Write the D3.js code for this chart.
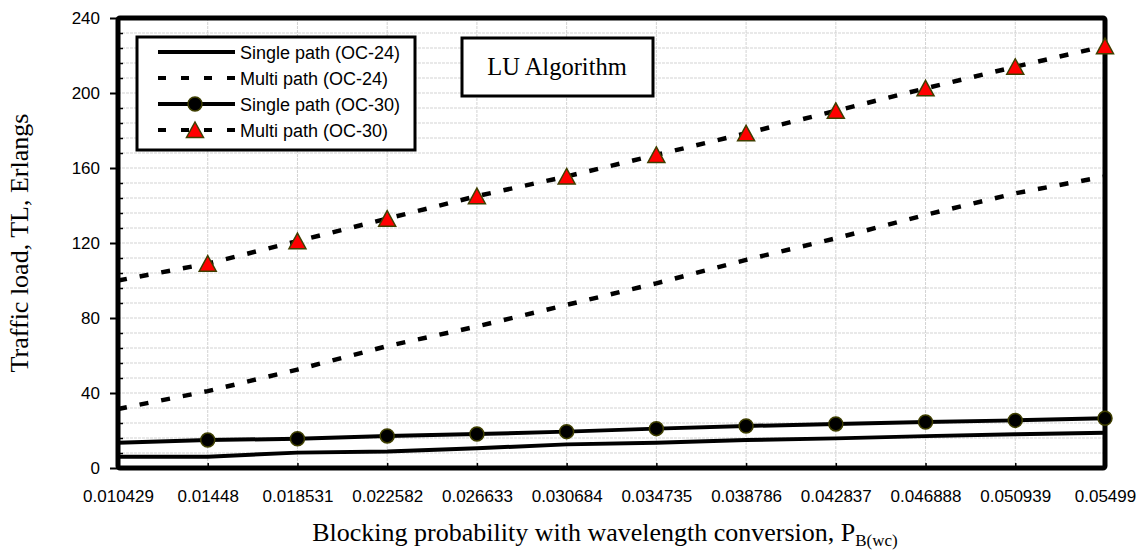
<!DOCTYPE html>
<html>
<head>
<meta charset="utf-8">
<script src="https://cdn.jsdelivr.net/npm/d3@7"></script>
<style>
  body { margin: 0; background: #fff; }
</style>
</head>
<body>
<svg id="chart" width="1141" height="553"></svg>
<script>
// x categories (blocking probability)
var xLabels = ["0.010429", "0.01448", "0.018531", "0.022582", "0.026633", "0.030684",
    "0.034735", "0.038786", "0.042837", "0.046888", "0.050939", "0.05499"];

// traffic load, Erlangs
var single24 = [6, 6, 8.2, 8.8, 10.5, 12.6, 13.5, 14.9, 15.8, 17, 18, 18.8];
var multi24 = [31.5, 41, 52.5, 65, 75.5, 87, 98.5, 111, 122.5, 135, 146.5, 155.5];
var single30 = [13.5, 14.9, 15.6, 17.1, 18.1, 19.4, 21, 22.4, 23.5, 24.5, 25.4, 26.5];
var multi30 = [100, 109, 121, 133, 145, 155.5, 167, 178.5, 190.5, 202.5, 214, 225];

var yTicks = [0, 40, 80, 120, 160, 200, 240];
var yMinorTicks = [8, 16, 24, 32, 48, 56, 64, 72, 88, 96, 104, 112, 128, 136, 144, 152,
    168, 176, 184, 192, 208, 216, 224, 232];

var seriesNames = ["Single path (OC-24)", "Multi path (OC-24)", "Single path (OC-30)", "Multi path (OC-30)"];

let plotLeft = 118, plotRight = 1105, plotTop = 18, plotBottom = 468;
let sansFont = "'Liberation Sans', Arial, sans-serif";
let serifFont = "'Liberation Serif', 'Times New Roman', serif";
let markerStroke = "#3f3f00";
let dashPattern = "9,13";

var svg = d3.select("#chart");

//scales
var xScale = d3.scaleLinear()
    .domain([0, xLabels.length - 1])
    .range([plotLeft, plotRight]);

var yScale = d3.scaleLinear()
    .domain([0, 240])
    .range([plotBottom, plotTop]);

//grid lines
var grid = svg.append("g");

grid.selectAll(".hgrid")
    .data(yMinorTicks.concat(yTicks.slice(1, -1)))
    .enter()
    .append("line")
    .attr("x1", plotLeft)
    .attr("x2", plotRight)
    .attr("y1", d => yScale(d))
    .attr("y2", d => yScale(d))
    .attr("stroke", "#d3d3d3")
    .attr("stroke-width", 1)
    .attr("stroke-dasharray", "3,1");

grid.selectAll(".vgrid")
    .data(d3.range(1, xLabels.length - 1))
    .enter()
    .append("line")
    .attr("x1", d => xScale(d))
    .attr("x2", d => xScale(d))
    .attr("y1", plotTop)
    .attr("y2", plotBottom)
    .attr("stroke", "#d3d3d3")
    .attr("stroke-width", 1)
    .attr("stroke-dasharray", "3,1");

//Y axis (major ticks outside, minor ticks inside)
var yAxisGroup = svg.append("g")
    .attr("transform", `translate(${plotLeft}, 0)`)
    .call(d3.axisLeft(yScale).tickValues(yTicks).tickSize(8).tickPadding(10));

yAxisGroup.select(".domain").remove();
yAxisGroup.selectAll("line").attr("stroke", "#000").attr("stroke-width", 2);
yAxisGroup.selectAll("text")
    .attr("font-family", sansFont)
    .attr("font-size", "17px")
    .attr("fill", "#000");

var yMinorGroup = svg.append("g")
    .attr("transform", `translate(${plotLeft}, 0)`)
    .call(d3.axisRight(yScale).tickValues(yMinorTicks).tickSize(5).tickFormat(""));

yMinorGroup.select(".domain").remove();
yMinorGroup.selectAll("line").attr("stroke", "#000").attr("stroke-width", 1.5);

//X axis
var xAxisGroup = svg.append("g")
    .attr("transform", `translate(0, ${plotBottom})`)
    .call(d3.axisBottom(xScale)
        .tickValues(d3.range(xLabels.length))
        .tickFormat(i => xLabels[i])
        .tickSizeInner(-5)
        .tickSizeOuter(0)
        .tickPadding(22));

xAxisGroup.select(".domain").remove();
xAxisGroup.selectAll("line").attr("stroke", "#000").attr("stroke-width", 1.5);
xAxisGroup.selectAll("text")
    .attr("font-family", sansFont)
    .attr("font-size", "17px")
    .attr("fill", "#000");

//lines
var line = d3.line()
    .x((d, i) => xScale(i))
    .y(d => yScale(d));

svg.append("path")
    .datum(single24)
    .attr("d", line)
    .attr("fill", "none")
    .attr("stroke", "#000")
    .attr("stroke-width", 4);

svg.append("path")
    .datum(multi24)
    .attr("d", line)
    .attr("fill", "none")
    .attr("stroke", "#000")
    .attr("stroke-width", 4.5)
    .attr("stroke-dasharray", dashPattern);

svg.append("path")
    .datum(single30)
    .attr("d", line)
    .attr("fill", "none")
    .attr("stroke", "#000")
    .attr("stroke-width", 4);

svg.append("path")
    .datum(multi30)
    .attr("d", line)
    .attr("fill", "none")
    .attr("stroke", "#000")
    .attr("stroke-width", 4.5)
    .attr("stroke-dasharray", dashPattern);

//plot frame
svg.append("rect")
    .attr("x", plotLeft)
    .attr("y", plotTop)
    .attr("width", plotRight - plotLeft)
    .attr("height", plotBottom - plotTop)
    .attr("rx", 2)
    .attr("fill", "none")
    .attr("stroke", "#000")
    .attr("stroke-width", 5);

//markers (first category has none)
var triangle = "M0,-8L8.5,7.5L-8.5,7.5Z";

svg.selectAll(".dot30")
    .data(single30.slice(1))
    .enter()
    .append("circle")
    .attr("cx", (d, i) => xScale(i + 1))
    .attr("cy", d => yScale(d))
    .attr("r", 7)
    .attr("fill", "#000")
    .attr("stroke", markerStroke)
    .attr("stroke-width", 1.5);

svg.selectAll(".tri30")
    .data(multi30.slice(1))
    .enter()
    .append("path")
    .attr("d", triangle)
    .attr("transform", (d, i) => `translate(${xScale(i + 1)}, ${yScale(d)})`)
    .attr("fill", "#ff0000")
    .attr("stroke", markerStroke)
    .attr("stroke-width", 1.5);

//legend
var legend = svg.append("g");

legend.append("rect")
    .attr("x", 137)
    .attr("y", 37)
    .attr("width", 278)
    .attr("height", 113)
    .attr("fill", "#fff")
    .attr("stroke", "#000")
    .attr("stroke-width", 3);

var legendRows = legend.selectAll(".row")
    .data(seriesNames)
    .enter()
    .append("g")
    .attr("transform", (d, i) => `translate(0, ${52 + i * 26})`);

legendRows.append("line")
    .attr("x1", 158)
    .attr("x2", 235)
    .attr("stroke", "#000")
    .attr("stroke-width", 4)
    .attr("stroke-dasharray", (d, i) => i % 2 == 1 ? "8,15" : null);

legendRows.append("text")
    .attr("x", 240)
    .attr("y", 6.5)
    .attr("font-family", sansFont)
    .attr("font-size", "18px")
    .text(d => d);

legendRows.filter((d, i) => i == 2)
    .append("circle")
    .attr("cx", 195)
    .attr("r", 7)
    .attr("fill", "#000")
    .attr("stroke", markerStroke)
    .attr("stroke-width", 1.5);

legendRows.filter((d, i) => i == 3)
    .append("path")
    .attr("d", triangle)
    .attr("transform", "translate(195, 0)")
    .attr("fill", "#ff0000")
    .attr("stroke", markerStroke)
    .attr("stroke-width", 1.5);

//LU Algorithm box
svg.append("rect")
    .attr("x", 462)
    .attr("y", 38)
    .attr("width", 191)
    .attr("height", 58)
    .attr("fill", "#fff")
    .attr("stroke", "#000")
    .attr("stroke-width", 3);

svg.append("text")
    .attr("x", 557)
    .attr("y", 75)
    .attr("text-anchor", "middle")
    .attr("font-family", serifFont)
    .attr("font-size", "24.5px")
    .text("LU Algorithm");

//Y label
svg.append("text")
    .attr("transform", "translate(28, 243) rotate(-90)")
    .attr("text-anchor", "middle")
    .attr("font-family", serifFont)
    .attr("font-size", "26px")
    .text("Traffic load, TL, Erlangs");

//X label
var xTitle = svg.append("text")
    .attr("x", 605)
    .attr("y", 541)
    .attr("text-anchor", "middle")
    .attr("font-family", serifFont)
    .attr("font-size", "26px");

xTitle.append("tspan").text("Blocking probability with wavelength conversion, P");
xTitle.append("tspan")
    .attr("font-size", "17px")
    .attr("dy", 5)
    .text("B(wc)");
</script>
</body>
</html>
